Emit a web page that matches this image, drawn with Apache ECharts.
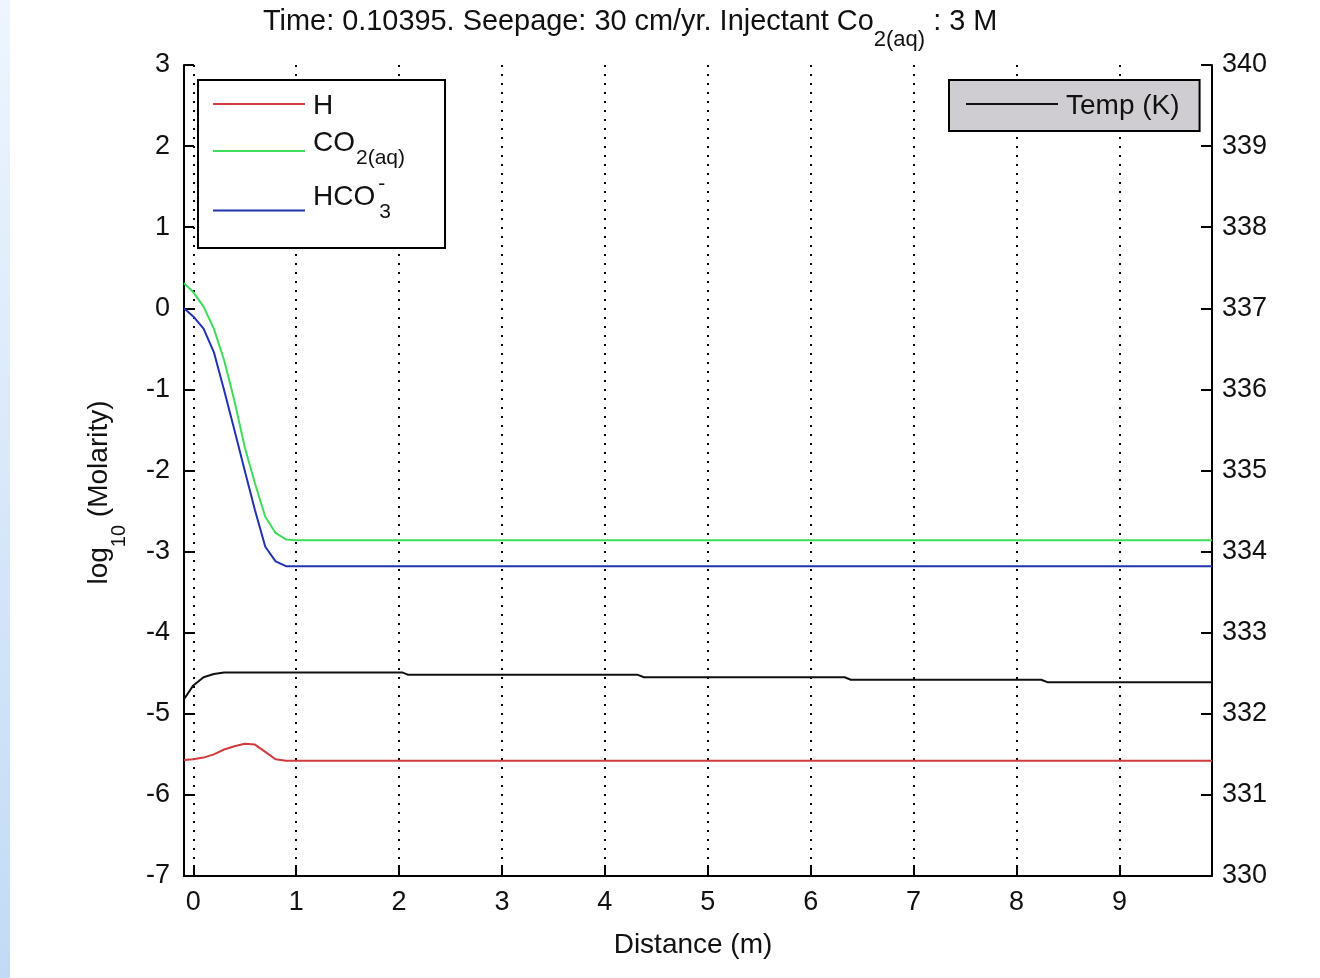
<!DOCTYPE html>
<html>
<head>
<meta charset="utf-8">
<title>Seepage profile</title>
<script src="https://cdn.jsdelivr.net/npm/echarts@6/dist/echarts.min.js"></script>
<style>
	html, body { margin: 0; padding: 0; background: #fff; }
	#strip { position: absolute; left: 0; top: 0; width: 10px; height: 978px;
		background: linear-gradient(to bottom, #eef5fd, #c3daf6); }
	#main { width: 1320px; height: 978px; }
</style>
</head>
<body>
<div id="strip"></div>
<div id="main"></div>
<script>
// distance along the column (m)
var distance = [-0.09, 0, 0.1, 0.2, 0.3, 0.4, 0.5, 0.6, 0.7, 0.8, 0.9, 1.0, 9.9];
// log10 molarity of each species
var hLog = [-5.57, -5.56, -5.54, -5.50, -5.44, -5.40, -5.37, -5.38, -5.47, -5.56, -5.58, -5.58, -5.58];
var co2Log = [0.31, 0.20, 0.02, -0.25, -0.64, -1.14, -1.71, -2.16, -2.57, -2.77, -2.85, -2.86, -2.86];
var hco3Log = [0.00, -0.10, -0.25, -0.54, -1.01, -1.50, -2.00, -2.49, -2.94, -3.12, -3.18, -3.18, -3.18];
// temperature (K) on the right axis
var tempDist = [-0.09, 0, 0.1, 0.2, 0.3, 2.03, 2.09, 4.32, 4.38, 6.33, 6.39, 8.24, 8.30, 9.9];
var tempK = [332.18, 332.35, 332.45, 332.49, 332.51, 332.51, 332.48, 332.48, 332.45, 332.45, 332.42, 332.42, 332.39, 332.39];
var xTicks = [0, 1, 2, 3, 4, 5, 6, 7, 8, 9];

var FONT = 'Liberation Sans, Arial, sans-serif';

function pairs(xs, ys) {
	var out = [];
	for(var i = 0; i < xs.length; i++) {
		out.push([xs[i], ys[i]]);
	}
	return out;
}

function txt(size, extra) {
	var s = { fontSize: size, fontFamily: FONT, fontWeight: 'normal', color: '#111' };
	for(var k in extra) s[k] = extra[k];
	return s;
}

// legend labels with sub/superscripts; z and y are empty spacer tokens
var legendText = {
	'H': '{h|H}{z| }',
	'CO2': '{a|CO}{b|2(aq)}',
	'HCO3': '{c|HCO}{d|-}{e|3}{y| }',
	'Temp (K)': '{t|Temp (K)}'
};

var myChart = echarts.init(document.getElementById('main'));

var option = {
	animation: false,
	textStyle: { fontFamily: FONT, color: '#111' },
	title: {
		left: 263,
		top: 2,
		padding: 0,
		text: '{m|Time: 0.10395. Seepage: 30 cm/yr. Injectant Co}{s|2(aq)}{m| : 3 M}',
		textStyle: {
			fontWeight: 'normal',
			rich: {
				m: txt(28.9, { lineHeight: 40 }),
				s: txt(22, { lineHeight: 40, padding: [36, 0, 0, 0] })
			}
		}
	},
	grid: { left: 184, right: 108, top: 65, bottom: 102 },
	legend: [{
		data: ['H', 'CO2', 'HCO3'],
		orient: 'vertical',
		left: 198,
		top: 80,
		padding: [12, 40, 25, 15],
		icon: 'rect',
		itemWidth: 92,
		itemHeight: 2,
		itemGap: -1,
		backgroundColor: '#fff',
		borderColor: '#000',
		borderWidth: 2,
		selectedMode: false,
		formatter: function(name) { return legendText[name]; },
		textStyle: {
			rich: {
				h: txt(28, { padding: [4, 0, 0, 3] }),
				z: txt(21, { verticalAlign: 'bottom', padding: [0, 0, -10, 0] }),
				a: txt(28, { padding: [0, 0, 16, 3] }),
				b: txt(21, { padding: [14, 0, 0, 1] }),
				c: txt(28, { padding: [0, 0, 26, 3] }),
				d: txt(21, { verticalAlign: 'top', padding: [-10, 0, 0, 3], width: 1 }),
				e: txt(21, { padding: [4, 0, 0, 0] }),
				y: txt(21, { verticalAlign: 'top', padding: [-16, 0, 0, 0] })
			}
		}
	}, {
		data: ['Temp (K)'],
		orient: 'horizontal',
		left: 949,
		top: 80,
		padding: [8, 20, 11, 17],
		icon: 'rect',
		itemWidth: 92,
		itemHeight: 2,
		backgroundColor: '#cfcdd2',
		borderColor: '#000',
		borderWidth: 2,
		selectedMode: false,
		formatter: function(name) { return legendText[name]; },
		textStyle: {
			rich: {
				t: txt(28, { lineHeight: 32, padding: [4, 0, 0, 3] })
			}
		}
	}],
	xAxis: {
		type: 'value',
		min: -0.09,
		max: 9.9,
		name: 'Distance (m)',
		nameLocation: 'middle',
		nameGap: 54,
		nameTextStyle: { fontSize: 28, color: '#111', lineHeight: 30, padding: [0, 10, 0, 0] },
		axisLine: { show: true, onZero: false, lineStyle: { color: '#000', width: 2 } },
		axisTick: { show: true, inside: true, length: 11, customValues: xTicks, lineStyle: { color: '#000', width: 2 } },
		axisLabel: { customValues: xTicks, fontSize: 27, color: '#111', margin: 13, lineHeight: 27 },
		splitLine: { show: true, lineStyle: { color: '#000', width: 2, type: [2, 7] } }
	},
	yAxis: [{
		type: 'value',
		position: 'left',
		min: -7,
		max: 3,
		interval: 1,
		name: '{m|log}{s|10}{m| (Molarity)}',
		nameLocation: 'middle',
		nameGap: 70,
		nameTextStyle: {
			rich: {
				m: txt(28, { lineHeight: 30 }),
				s: txt(20, { lineHeight: 30, padding: [40, 0, 0, 0] })
			},
			padding: [0, 44, 0, 0]
		},
		axisLine: { show: true, onZero: false, lineStyle: { color: '#000', width: 2 } },
		axisTick: { show: true, inside: true, length: 10, lineStyle: { color: '#000', width: 2 } },
		axisLabel: { fontSize: 27, color: '#111', margin: 14 },
		splitLine: { show: false }
	}, {
		type: 'value',
		position: 'right',
		min: 330,
		max: 340,
		interval: 1,
		axisLine: { show: true, onZero: false, lineStyle: { color: '#000', width: 2 } },
		axisTick: { show: true, inside: true, length: 11, lineStyle: { color: '#000', width: 2 } },
		axisLabel: { fontSize: 27, color: '#111', margin: 10 },
		splitLine: { show: false }
	}],
	series: [{
		name: 'H',
		type: 'line',
		symbol: 'none',
		data: pairs(distance, hLog),
		lineStyle: { color: '#d03a3e', width: 2 },
		itemStyle: { color: '#d03a3e' }
	}, {
		name: 'CO2',
		type: 'line',
		symbol: 'none',
		data: pairs(distance, co2Log),
		lineStyle: { color: '#3ddc5a', width: 2 },
		itemStyle: { color: '#3ddc5a' }
	}, {
		name: 'HCO3',
		type: 'line',
		symbol: 'none',
		data: pairs(distance, hco3Log),
		lineStyle: { color: '#2233b0', width: 2 },
		itemStyle: { color: '#2233b0' }
	}, {
		name: 'Temp (K)',
		type: 'line',
		symbol: 'none',
		yAxisIndex: 1,
		data: pairs(tempDist, tempK),
		lineStyle: { color: '#111', width: 2 },
		itemStyle: { color: '#111' }
	}]
};

myChart.setOption(option);
</script>
</body>
</html>
